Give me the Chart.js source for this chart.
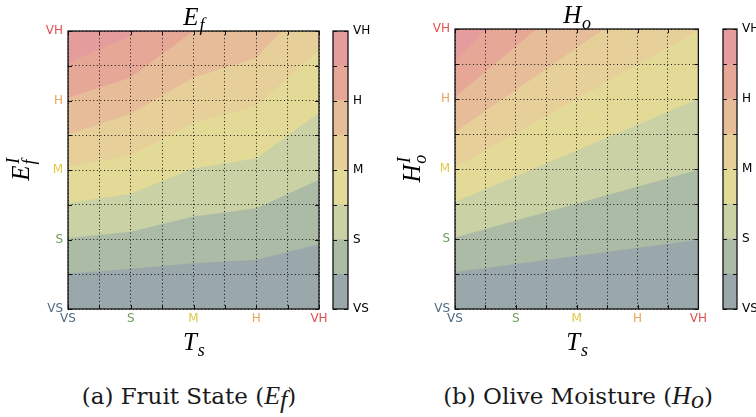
<!DOCTYPE html>
<html>
<head>
<meta charset="utf-8">
<script src="https://cdn.jsdelivr.net/npm/chart.js@4.4.1/dist/chart.umd.min.js"></script>
<style>
	body { margin: 0; background: #fff; width: 756px; height: 417px; overflow: hidden; position: relative; }
	canvas { position: absolute; top: 0; }
	.cap { position: absolute; top: 381px; transform: translateX(-50%); white-space: nowrap;
		font-family: "DejaVu Serif", serif; font-size: 23px; line-height: 30px; color: #1a1a1a; }
	.cap i { font-family: "Liberation Serif", serif; font-size: 26px; }
	.cap sub { font-size: 18px; vertical-align: -4px; line-height: 0; }
</style>
</head>
<body>
<canvas id="fruit" width="380" height="360" style="left:0"></canvas>
<canvas id="fruitBar" width="60" height="360" style="left:320px"></canvas>
<canvas id="moist" width="330" height="360" style="left:380px"></canvas>
<canvas id="moistBar" width="56" height="360" style="left:700px"></canvas>
<div class="cap" style="left:189px">(a) Fruit State (<i>E</i><sub><i>f</i></sub>)</div>
<div class="cap" style="left:578px">(b) Olive Moisture (<i>H</i><sub><i>o</i></sub>)</div>

<script>
// linguistic scale shared by both axes and the colour bars
var tickLabels = ['VS', 'S', 'M', 'H', 'VH'];
var tickColors = ['#4d6b82', '#6f9c5c', '#e2c848', '#e8a65a', '#e25050'];

// contour levels (band edges) and the fill of each band, low to high
var levels = [0, 0.5, 1, 1.5, 2, 2.5, 3, 3.5, 4];
var bandColors = ['#9aa8ab', '#abbba6', '#c9d1a5', '#e4da97', '#e6cf99', '#e6bd98', '#e6a797', '#e59c9c'];

// fruit state: each contour as [Ts, Ef'] points, levels 0.5 .. 3.5
var fruit05 = [[0, 0.51], [1, 0.58], [2, 0.66], [3, 0.71], [4, 0.93]];
var fruit10 = [[0, 1.02], [1, 1.11], [2, 1.33], [3, 1.45], [4, 1.86]];
var fruit15 = [[0, 1.52], [1, 1.66], [2, 2.02], [3, 2.17], [4, 2.82]];
var fruit20 = [[0, 2.05], [1, 2.21], [2, 2.68], [3, 2.92], [4, 3.72]];
var fruit25 = [[0, 2.51], [1, 2.81], [2, 3.33], [3, 3.61], [3.4, 4]];
var fruit30 = [[0, 3.04], [1, 3.33], [2, 4]];
var fruit35 = [[0, 3.54], [1, 3.93], [1.1, 4]];

// olive moisture: each contour as [Ts, Ho'] points, levels 0.5 .. 3.5
var moist05 = [[0, 0.53], [4, 0.99]];
var moist10 = [[0, 1.02], [4, 1.99]];
var moist15 = [[0, 1.53], [4, 3.0]];
var moist20 = [[0, 2.02], [4, 3.98]];
var moist25 = [[0, 2.53], [2.45, 4]];
var moist30 = [[0, 3.03], [1.34, 4]];
var moist35 = [[0, 3.52], [0.5, 4]];

function isWhole(v) { return Math.abs(v - Math.round(v)) < 1e-6; }

function drawMath(ctx, x, y, m, size, angle) {
	ctx.save();
	ctx.translate(x, y);
	ctx.rotate(angle || 0);
	var big = 'italic ' + size + 'px "Liberation Serif", serif';
	var small = 'italic ' + Math.round(size * 0.7) + 'px "Liberation Serif", serif';
	ctx.font = big;
	var wb = ctx.measureText(m.base).width;
	ctx.font = small;
	var ws = Math.max(m.sub ? ctx.measureText(m.sub).width : 0, m.sup ? ctx.measureText(m.sup).width : 0);
	var x0 = -(wb + ws) / 2;
	ctx.fillStyle = '#000';
	ctx.textAlign = 'left';
	ctx.textBaseline = 'alphabetic';
	ctx.font = big;
	ctx.fillText(m.base, x0, 0);
	ctx.font = small;
	if (m.sub) ctx.fillText(m.sub, x0 + wb + size * 0.03, size * 0.24);
	if (m.sup) ctx.fillText(m.sup, x0 + wb + size * 0.06, -size * 0.42);
	ctx.restore();
}

// black frame, inward tick marks and the math labels
var framePlugin = {
	id: 'frame',
	beforeDatasetsDraw: function (chart, args, o) {
		if (!o.background) return;
		var a = chart.chartArea;
		chart.ctx.save();
		chart.ctx.fillStyle = o.background;
		chart.ctx.fillRect(a.left, a.top, a.right - a.left, a.bottom - a.top);
		chart.ctx.restore();
	},
	afterDraw: function (chart, args, o) {
		var ctx = chart.ctx, a = chart.chartArea, sx = chart.scales.x, sy = chart.scales.y;
		ctx.save();
		ctx.strokeStyle = '#111';
		ctx.lineWidth = 1;
		ctx.beginPath();
		sy.ticks.forEach(function (t) {
			var py = Math.round(sy.getPixelForValue(t.value)) + 0.5;
			ctx.moveTo(a.left, py); ctx.lineTo(a.left + 4, py);
			ctx.moveTo(a.right, py); ctx.lineTo(a.right - 4, py);
		});
		if (o.xTicks) {
			sx.ticks.forEach(function (t) {
				var px = Math.round(sx.getPixelForValue(t.value)) + 0.5;
				ctx.moveTo(px, a.top); ctx.lineTo(px, a.top + 4);
				ctx.moveTo(px, a.bottom); ctx.lineTo(px, a.bottom - 4);
			});
		}
		ctx.stroke();
		ctx.lineWidth = 1.3;
		ctx.strokeRect(a.left, a.top, a.right - a.left, a.bottom - a.top);
		ctx.restore();
		var cx = (a.left + a.right) / 2, cy = (a.top + a.bottom) / 2;
		if (o.title) drawMath(ctx, cx, a.top - 6, o.title, 25);
		if (o.xLabel) drawMath(ctx, cx, a.bottom + 41, o.xLabel, 25);
		if (o.yLabel) drawMath(ctx, a.left - o.yGap, cy, o.yLabel, 25, -Math.PI / 2);
	}
};

// axis from VS (0) to VH (4) with a dotted grid line every half step
function levelAxis(position, labelColor, padding, size) {
	var horizontal = position === 'bottom';
	return {
		type: 'linear',
		position: position,
		min: 0,
		max: 4,
		grid: { color: '#000', lineWidth: 0.9, drawTicks: false, z: 1 },
		border: { display: false, dash: [1, 2.6] },
		ticks: {
			stepSize: 0.5,
			autoSkip: false,
			maxRotation: 0,
			padding: padding,
			font: { family: 'DejaVu Sans', size: 12 },
			color: labelColor,
			callback: function (v) { return isWhole(v) ? tickLabels[Math.round(v)] : ''; }
		},
		afterFit: function (s) {
			if (horizontal) s.height = size; else s.width = size;
		}
	};
}

function colorOfTick(ctx) {
	var v = ctx.tick ? ctx.tick.value : 0;
	return isWhole(v) ? tickColors[Math.round(v)] : '#000';
}

function createContour(id, contours, pad, labels) {
	var datasets = contours.map(function (pts, k) {
		return {
			label: 'level ' + levels[k + 1],
			data: pts.map(function (p) { return { x: p[0], y: p[1] }; }),
			borderWidth: 0,
			pointRadius: 0,
			tension: 0,
			fill: 'end',
			backgroundColor: bandColors[k + 1],
			order: contours.length - k
		};
	});
	return new Chart(id, {
		type: 'line',
		data: { datasets: datasets },
		options: {
			responsive: false,
			animation: false,
			layout: { padding: pad },
			plugins: {
				legend: { display: false },
				tooltip: { enabled: false },
				frame: {
					background: bandColors[0],
					xTicks: true,
					title: labels.title,
					xLabel: labels.x,
					yLabel: labels.y,
					yGap: labels.yGap
				}
			},
			scales: {
				x: levelAxis('bottom', colorOfTick, 3, 20),
				y: levelAxis('left', colorOfTick, 5, 30)
			}
		},
		plugins: [framePlugin]
	});
}

function createColorBar(id, pad, axisSize) {
	var datasets = bandColors.map(function (c, i) {
		return {
			data: [[levels[i], levels[i + 1]]],
			backgroundColor: c,
			borderWidth: 0,
			barPercentage: 1,
			categoryPercentage: 1,
			grouped: false
		};
	});
	var y = levelAxis('right', '#000', 5, axisSize);
	y.grid = { display: false, drawTicks: false };
	return new Chart(id, {
		type: 'bar',
		data: { labels: [''], datasets: datasets },
		options: {
			responsive: false,
			animation: false,
			layout: { padding: pad },
			plugins: { legend: { display: false }, tooltip: { enabled: false }, frame: { xTicks: false } },
			scales: { x: { display: false }, y: y }
		},
		plugins: [framePlugin]
	});
}

// chart areas: fruit 68..319 x 31..309, moisture 455..707 x 29..309
createContour('fruit', [fruit05, fruit10, fruit15, fruit20, fruit25, fruit30, fruit35],
	{ left: 38, right: 61, top: 31, bottom: 31 },
	{ title: { base: 'E', sub: 'f' }, x: { base: 'T', sub: 's' }, y: { base: 'E', sub: 'f', sup: 'I' }, yGap: 39 });
createColorBar('fruitBar', { left: 13, right: 2, top: 31, bottom: 51 }, 30);

createContour('moist', [moist05, moist10, moist15, moist20, moist25, moist30, moist35],
	{ left: 45, right: 3, top: 29, bottom: 31 },
	{ title: { base: 'H', sub: 'o' }, x: { base: 'T', sub: 's' }, y: { base: 'H', sub: 'o', sup: 'I' }, yGap: 35 });
createColorBar('moistBar', { left: 23, right: 0, top: 29, bottom: 51 }, 19);
</script>
</body>
</html>
